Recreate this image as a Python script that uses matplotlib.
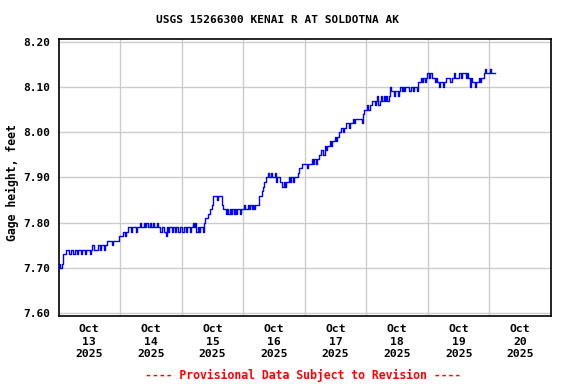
import matplotlib
matplotlib.use('Agg')
import matplotlib.pyplot as plt
import matplotlib.dates as mdates
import numpy as np
import pandas as pd

# Gage height in hundredths of a foot, 30-minute readings starting 2025-10-13 00:00
oct13 = [770, 771, 770, 771, 773, 773, 774, 774,
         774, 773, 774, 774, 773, 774, 774, 773,
         774, 774, 773, 774, 774, 773, 774, 774,
         774, 773, 774, 775, 774, 774, 774, 775,
         775, 774, 775, 775, 774, 775, 776, 776,
         776, 776, 775, 776, 776, 776, 776, 776]
oct14 = [777, 777, 777, 778, 777, 778, 778, 779,
         779, 778, 779, 779, 779, 778, 779, 779,
         780, 779, 779, 780, 779, 780, 779, 779,
         780, 779, 780, 779, 779, 780, 779, 779,
         778, 779, 779, 778, 777, 779, 778, 779,
         779, 778, 779, 778, 779, 779, 778, 779]
oct15 = [779, 778, 779, 779, 778, 779, 779, 778,
         779, 780, 779, 780, 778, 779, 778, 779,
         779, 778, 780, 781, 781, 782, 782, 783,
         784, 786, 786, 786, 785, 786, 786, 786,
         784, 783, 783, 782, 783, 782, 783, 782,
         783, 782, 783, 782, 783, 783, 782, 783]
oct16 = [783, 784, 783, 783, 784, 783, 784, 783,
         784, 783, 784, 784, 784, 786, 786, 787,
         788, 789, 790, 790, 791, 790, 791, 790,
         790, 791, 789, 790, 790, 789, 789, 788,
         789, 788, 789, 789, 790, 789, 790, 789,
         790, 790, 790, 791, 792, 792, 793, 793]
oct17 = [793, 793, 792, 793, 793, 793, 794, 793,
         794, 793, 794, 794, 795, 796, 796, 795,
         797, 796, 797, 797, 798, 797, 798, 798,
         799, 798, 799, 800, 800, 801, 800, 801,
         801, 802, 802, 801, 802, 802, 803, 802,
         803, 803, 803, 803, 803, 802, 804, 805]
oct18 = [805, 806, 805, 806, 806, 807, 807, 806,
         807, 808, 806, 807, 808, 807, 808, 807,
         808, 807, 808, 810, 809, 809, 808, 809,
         809, 808, 809, 810, 809, 810, 809, 810,
         810, 810, 809, 810, 810, 809, 810, 810,
         809, 811, 811, 812, 811, 812, 811, 812]
oct19 = [813, 812, 813, 813, 812, 812, 811, 812,
         811, 810, 811, 811, 810, 811, 811, 812,
         812, 812, 811, 812, 812, 813, 812, 812,
         812, 813, 812, 813, 813, 813, 812, 813,
         812, 810, 812, 811, 811, 810, 811, 811,
         812, 811, 812, 812, 813, 814, 813, 813]
oct20 = [813, 814, 813, 813, 813]

gage_ft = np.array(oct13 + oct14 + oct15 + oct16 + oct17 + oct18 + oct19 + oct20) / 100.0
times = pd.date_range('2025-10-13 00:00', periods=len(gage_ft), freq='30min')

y_ticks = [7.60, 7.70, 7.80, 7.90, 8.00, 8.10, 8.20]
day_labels = ['Oct\n13\n2025', 'Oct\n14\n2025', 'Oct\n15\n2025', 'Oct\n16\n2025',
              'Oct\n17\n2025', 'Oct\n18\n2025', 'Oct\n19\n2025', 'Oct\n20\n2025']

title = 'USGS 15266300 KENAI R AT SOLDOTNA AK'
ylabel = 'Gage height, feet'
note = '---- Provisional Data Subject to Revision ----'

font = {'family': 'DejaVu Sans Mono', 'weight': 'bold'}

fig = plt.figure(figsize=(5.76, 3.84), dpi=100)
fig.patch.set_facecolor('white')
ax = fig.add_axes([58.5 / 576, 1 - 315.7 / 384, (551 - 58.5) / 576, (315.7 - 39.3) / 384])

ax.plot(mdates.date2num(times.to_pydatetime()), gage_ft, color='#0000FF', lw=1.0,
        drawstyle='steps-mid', zorder=3)

ax.set_ylim(7.5947, 8.2053)
ax.set_yticks(y_ticks)
ax.set_yticklabels([f'{v:.2f}' for v in y_ticks], fontsize=8, **font)

x0 = mdates.date2num(pd.Timestamp('2025-10-13').to_pydatetime())
x1 = mdates.date2num(pd.Timestamp('2025-10-21').to_pydatetime())
ax.set_xlim(x0, x1)
major = mdates.date2num(pd.date_range('2025-10-14', '2025-10-20', freq='D').to_pydatetime())
minor = mdates.date2num(pd.date_range('2025-10-13 12:00', periods=8, freq='D').to_pydatetime())
ax.set_xticks(major)
ax.set_xticklabels([])
ax.set_xticks(minor, minor=True)
ax.set_xticklabels(day_labels, minor=True, fontsize=8.2, linespacing=1.32, **font)

ax.tick_params(which='both', length=0)
ax.tick_params(axis='y', pad=6)
ax.tick_params(axis='x', which='minor', pad=6)
ax.grid(True, which='major', color='#CCCCCC', lw=1.0)
ax.set_axisbelow(True)
for s in ax.spines.values():
    s.set_color('black')
    s.set_linewidth(1.2)

fig.text(12 / 576, 1 - 182.5 / 384, ylabel, rotation=90, ha='center', va='center',
         fontsize=8.3, **font)
fig.text(277 / 576, 1 - 20 / 384, title, ha='center', va='center', fontsize=8, **font)
fig.text(303 / 576, 1 - 375 / 384, note, ha='center', va='center', fontsize=8.3,
         color='#FF0000', **font)

fig.savefig('out.png', dpi=100)
